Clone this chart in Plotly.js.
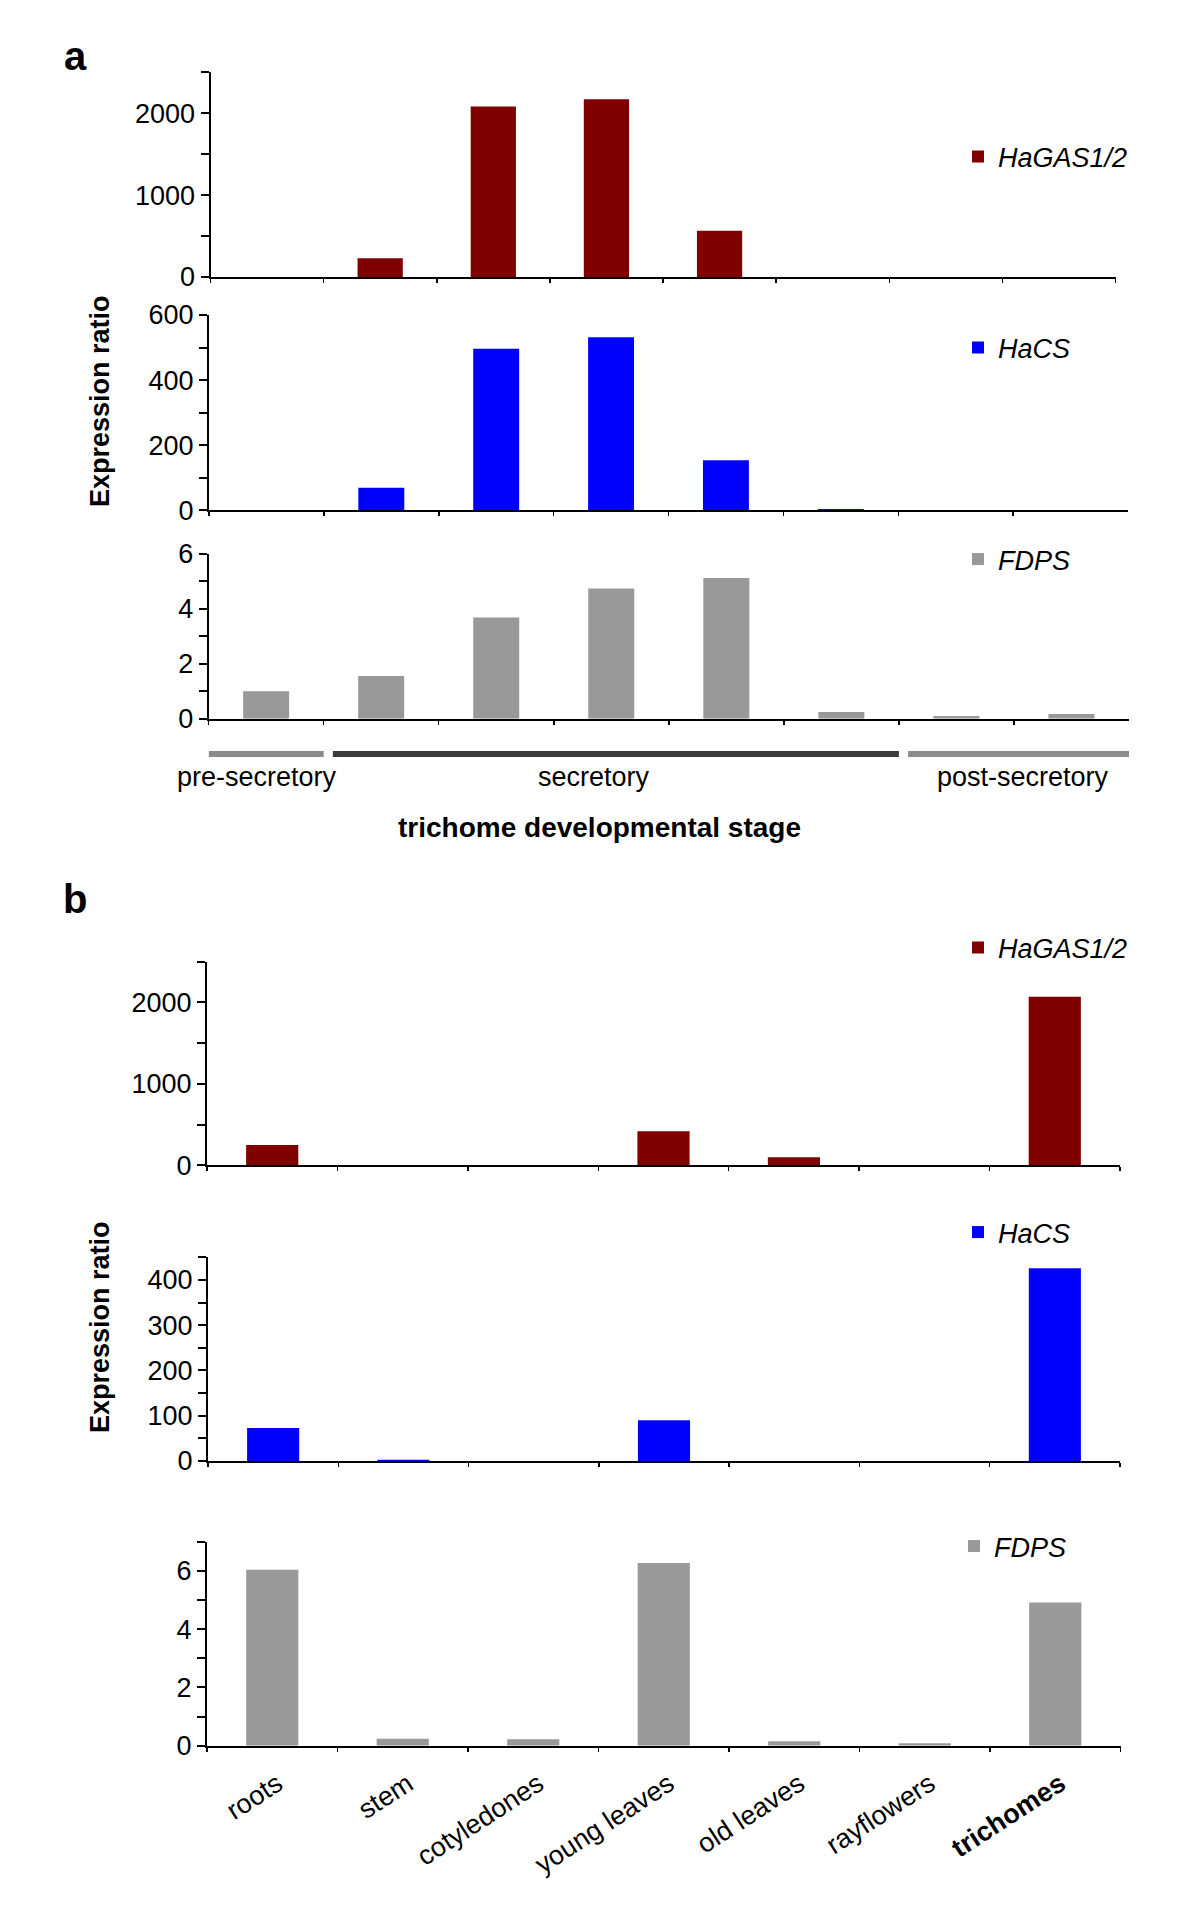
<!DOCTYPE html>
<html>
<head>
<meta charset="utf-8">
<script src="https://cdn.plot.ly/plotly-3.0.1.min.js"></script>
<style>html,body{margin:0;padding:0;background:#fff;}#chart{width:1200px;height:1912px;}</style>
</head>
<body>
<div id="chart"></div>
<script>
// ---------- data ----------
const stages = ['stage 1','stage 2','stage 3','stage 4','stage 5','stage 6','stage 7','stage 8'];
const stageHaGAS = [0, 229, 2082, 2172, 564, 0, 0, 0];
const stageHaCS  = [0, 69, 496, 532, 154, 4, 0, 0];
const stageFDPS  = [1.0, 1.56, 3.69, 4.74, 5.13, 0.24, 0.10, 0.17];

const tissues = ['roots','stem','cotyledones','young leaves','old leaves','rayflowers','trichomes'];
const tissueTickText = ['roots','stem','cotyledones','young leaves','old leaves','rayflowers','<b>trichomes</b>'];
const tissueHaGAS = [248, 0, 0, 419, 98, 0, 2070];
const tissueHaCS  = [73, 3, 0, 90, 0, 0, 426];
const tissueFDPS  = [6.04, 0.24, 0.22, 6.27, 0.15, 0.08, 4.91];

const geneNames = ['HaGAS1/2', 'HaCS', 'FDPS'];

const stageGroupNames = ['pre-secretory', 'secretory', 'post-secretory'];
const stageGroupFirst = [0, 1, 6];
const stageGroupLast  = [0, 5, 7];

// ---------- style / layout helpers ----------
const W = 1200, H = 1912;
const FONT = 'Liberation Sans, Arial, Helvetica, sans-serif';
const geneColors = ['#800000', '#0000ff', '#999999'];
const px = v => v / W;
const py = v => 1 - v / H;

function yAx(top, bottom, range, dtick, minor, anchor) {
  return {
    domain: [py(bottom), py(top)], range: range, dtick: dtick, tick0: 0, anchor: anchor,
    showline: true, linecolor: '#000', linewidth: 2,
    ticks: 'outside', ticklen: 8, tickwidth: 2, tickcolor: '#000',
    minor: {dtick: minor, tick0: 0, ticks: 'outside', ticklen: 8, tickwidth: 2, tickcolor: '#000', showgrid: false},
    showgrid: false, zeroline: false, fixedrange: true,
    tickfont: {family: FONT, size: 27, color: '#000'}
  };
}
function xAx(left, right, anchor, n) {
  return {
    domain: [px(left), px(right)], anchor: anchor, type: 'category',
    range: [-0.5, n - 0.5], autorange: false,
    showline: true, linecolor: '#000', linewidth: 2,
    ticks: 'outside', ticklen: 4, tickwidth: 1.5, tickcolor: '#000',
    tickson: 'boundaries', showgrid: false, zeroline: false, fixedrange: true,
    showticklabels: false
  };
}

const nS = stages.length, nT = tissues.length;
const layout = {
  width: W, height: H,
  margin: {l: 0, r: 0, t: 0, b: 0},
  paper_bgcolor: '#fff', plot_bgcolor: 'rgba(0,0,0,0)',
  bargap: 0.6, showlegend: true,
  font: {family: FONT, color: '#000'},
  xaxis:  xAx(210.5, 1115.5, 'y', nS),
  yaxis:  yAx(72.3, 277, [0, 2500], 1000, 500, 'x'),
  xaxis2: xAx(209, 1128, 'y2', nS),
  yaxis2: yAx(315, 510.3, [0, 600], 200, 100, 'x2'),
  xaxis3: xAx(208.6, 1129, 'y3', nS),
  yaxis3: yAx(554, 718.7, [0, 6], 2, 1, 'x3'),
  xaxis4: xAx(207, 1120, 'y4', nT),
  yaxis4: yAx(961.7, 1165.3, [0, 2500], 1000, 500, 'x4'),
  xaxis5: xAx(208, 1120, 'y5', nT),
  yaxis5: yAx(1257.3, 1461, [0, 450], 100, 50, 'x5'),
  xaxis6: Object.assign(xAx(207, 1120.5, 'y6', nT), {
    showticklabels: true, tickmode: 'array', tickvals: tissues, ticktext: tissueTickText,
    tickangle: -33, ticklabelstandoff: 10, ticklabelshift: 5,
    tickfont: {family: FONT, size: 27, color: '#000'}
  }),
  yaxis6: yAx(1541.7, 1745.7, [0, 7], 2, 1, 'x6'),
  shapes: [], annotations: []
};

// legends
const legendY = [157, 348, 559.5, 948, 1232.5, 1546.5];
const legendX = [958, 958, 958, 958, 958, 954];
legendY.forEach((yy, i) => {
  const key = i === 0 ? 'legend' : 'legend' + (i + 1);
  layout[key] = {
    x: px(legendX[i]), y: py(yy), xanchor: 'left', yanchor: 'middle',
    bgcolor: 'rgba(0,0,0,0)', borderwidth: 0,
    font: {family: FONT, size: 27, color: '#000', style: 'italic'}
  };
});

// traces
const series = [
  [stages, stageHaGAS, 0], [stages, stageHaCS, 1], [stages, stageFDPS, 2],
  [tissues, tissueHaGAS, 0], [tissues, tissueHaCS, 1], [tissues, tissueFDPS, 2]
];
const traces = series.map((s, i) => ({
  type: 'bar', x: s[0], y: s[1], name: geneNames[s[2]],
  marker: {color: geneColors[s[2]], line: {width: 0}},
  xaxis: i === 0 ? 'x' : 'x' + (i + 1), yaxis: i === 0 ? 'y' : 'y' + (i + 1),
  legend: i === 0 ? 'legend' : 'legend' + (i + 1),
  hoverinfo: 'x+y'
}));

// stage group bars and labels under panel a
const groupColors = ['#8a8a8a', '#3c3c3c', '#8c8c8c'];
const groupShift = [-9, -17, 9];
stageGroupNames.forEach((name, i) => {
  layout.shapes.push({
    type: 'rect', xref: 'x3', yref: 'paper',
    x0: stageGroupFirst[i] - 0.5 + (i > 0 ? 0.08 : 0), x1: stageGroupLast[i] + 0.5,
    y0: py(757), y1: py(751), fillcolor: groupColors[i], line: {width: 0}
  });
  layout.annotations.push({
    xref: 'x3', yref: 'paper', x: (stageGroupFirst[i] + stageGroupLast[i]) / 2, y: py(777),
    xanchor: 'center', yanchor: 'middle', xshift: groupShift[i], showarrow: false,
    text: name, font: {family: FONT, size: 27, color: '#000'}
  });
});
layout.annotations.push(
  {xref: 'paper', yref: 'paper', x: px(599), y: py(827), xanchor: 'center', yanchor: 'middle', showarrow: false,
   text: '<b>trichome developmental stage</b>', font: {family: FONT, size: 28, color: '#000'}},
  {xref: 'paper', yref: 'paper', x: px(100), y: py(401), xanchor: 'center', yanchor: 'middle', showarrow: false,
   textangle: -90, text: '<b>Expression ratio</b>', font: {family: FONT, size: 27, color: '#000'}},
  {xref: 'paper', yref: 'paper', x: px(100), y: py(1327), xanchor: 'center', yanchor: 'middle', showarrow: false,
   textangle: -90, text: '<b>Expression ratio</b>', font: {family: FONT, size: 27, color: '#000'}},
  {xref: 'paper', yref: 'paper', x: px(75), y: py(56), xanchor: 'center', yanchor: 'middle', showarrow: false,
   text: '<b>a</b>', font: {family: FONT, size: 40, color: '#000'}},
  {xref: 'paper', yref: 'paper', x: px(75), y: py(899), xanchor: 'center', yanchor: 'middle', showarrow: false,
   text: '<b>b</b>', font: {family: FONT, size: 40, color: '#000'}}
);

Plotly.newPlot('chart', traces, layout, {displayModeBar: false, staticPlot: true});
</script>
</body>
</html>
